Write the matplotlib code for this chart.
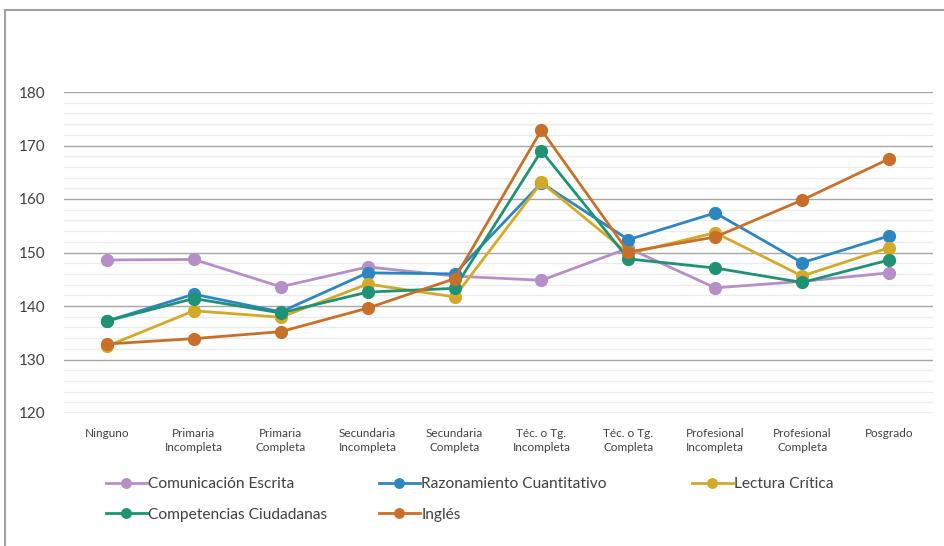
import matplotlib
matplotlib.use('Agg')
import matplotlib.pyplot as plt
from matplotlib.patches import Rectangle
from matplotlib.ticker import MultipleLocator

categories = ['Ninguno', 'Primaria\nIncompleta', 'Primaria\nCompleta', 'Secundaria\nIncompleta',
              'Secundaria\nCompleta', 'Téc. o Tg.\nIncompleta', 'Téc. o Tg.\nCompleta',
              'Profesional\nIncompleta', 'Profesional\nCompleta', 'Posgrado']

comunicacion = [148.6, 148.7, 143.6, 147.3, 145.6, 144.8, 150.8, 143.4, 144.6, 146.2]
razonamiento = [137.2, 142.2, 138.9, 146.2, 146.0, 163.0, 152.4, 157.4, 148.1, 153.1]
lectura = [132.5, 139.1, 137.9, 144.1, 141.7, 163.1, 149.8, 153.7, 145.6, 150.9]
competencias = [137.2, 141.4, 138.7, 142.6, 143.3, 169.0, 148.8, 147.1, 144.4, 148.6]
ingles = [132.9, 133.9, 135.2, 139.6, 145.1, 172.9, 150.1, 152.9, 159.8, 167.5]

series = [
    ('Comunicación Escrita', comunicacion, '#b58fc6'),
    ('Razonamiento Cuantitativo', razonamiento, '#2e86c1'),
    ('Lectura Crítica', lectura, '#d4a92a'),
    ('Competencias Ciudadanas', competencias, '#1e9273'),
    ('Inglés', ingles, '#c8702a'),
]

plt.rcParams['font.family'] = ['Lato', 'DejaVu Sans']

fig = plt.figure(figsize=(9.44, 5.46), dpi=100)
ax = fig.add_axes([63.5 / 944, 1 - 413 / 546, 869 / 944, 321 / 546])

x = list(range(len(categories)))
handles = []
for name, vals, col in series:
    h, = ax.plot(x, vals, color=col, lw=2.0, marker='o', markersize=8.5, label=name, zorder=3)
    handles.append(h)

ax.set_xlim(-0.5, len(categories) - 0.5)
ax.set_ylim(120, 180)
ax.yaxis.set_major_locator(MultipleLocator(10))
ax.yaxis.set_minor_locator(MultipleLocator(2))
ax.grid(True, which='major', axis='y', color='#a6a6a6', lw=1.0)
ax.grid(True, which='minor', axis='y', color='#ebebeb', lw=1.0)
ax.set_axisbelow(True)
for s in ax.spines.values():
    s.set_visible(False)
ax.tick_params(axis='both', which='both', length=0)
ax.tick_params(axis='y', labelsize=11, labelcolor='#404040', pad=13)
ax.tick_params(axis='x', labelsize=8.5, labelcolor='#404040', pad=11)
ax.set_xticks(x)
ax.set_xticklabels(categories, linespacing=1.25)

# legend laid out in rows, three columns like the original
cols = [(handles[0], handles[3]), (handles[1], handles[4]), (handles[2],)]
xpos = [100, 373, 686]
for hs, xp in zip(cols, xpos):
    fig.legend(handles=list(hs), labels=[h.get_label() for h in hs], loc='upper left',
               bbox_to_anchor=(xp / 944, 1 - 471 / 546), frameon=False,
               fontsize=11.2, handlelength=2.6, handletextpad=0.1, markerscale=0.8,
               labelspacing=1.05, labelcolor='#404040', borderaxespad=0)

fig.add_artist(Rectangle((5 / 944, -0.05), 1.1, 1 - 10 / 546 + 0.05, transform=fig.transFigure,
                         facecolor='none', edgecolor='#a0a0a0', lw=1.5))

fig.savefig('out.png', dpi=100)
